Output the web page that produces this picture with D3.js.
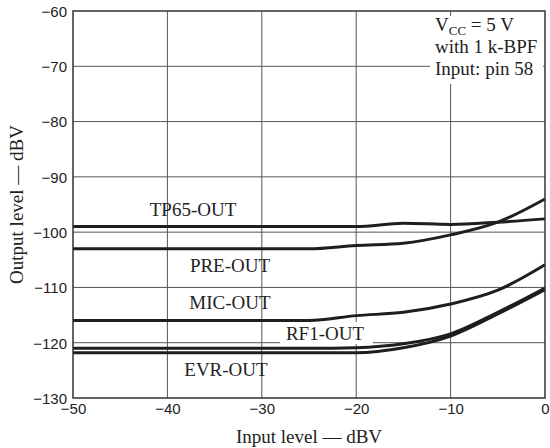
<!DOCTYPE html>
<html><head><meta charset="utf-8">
<script src="https://cdn.jsdelivr.net/npm/d3@7"></script>
<style>html,body{margin:0;padding:0;background:#fff;}</style>
</head><body>
<svg id="c" width="550" height="448"></svg>
<script>
const xValues = [-50, -40, -30, -25, -20, -15, -10, -5, 0];
const tp65Out = [-99, -99, -99, -99, -99, -98.4, -98.6, -98.2, -97.6];
const preOut  = [-103, -103, -103, -103, -102.4, -102, -100.5, -98.2, -94];
const micOut  = [-116, -116, -116, -116, -115.1, -114.5, -113, -110.5, -105.9];
const rf1Out  = [-121, -121, -121, -121, -120.9, -120.2, -118.4, -114.5, -110.1];
const evrOut  = [-121.8, -121.8, -121.8, -121.8, -121.8, -120.9, -118.8, -114.8, -110.4];
const xTicks = [-50, -40, -30, -20, -10, 0];
const yTicks = [-130, -120, -110, -100, -90, -80, -70, -60];
const seriesNames = ["TP65-OUT", "PRE-OUT", "MIC-OUT", "RF1-OUT", "EVR-OUT"];
const notes = ["with 1 k-BPF", "Input: pin 58"];

const svg = d3.select("#c");
const L = 73, R = 545, T = 11, B = 398;
const x = d3.scaleLinear().domain([-50, 0]).range([L, R]);
const y = d3.scaleLinear().domain([-130, -60]).range([B, T]);
const fmt = v => (v < 0 ? "\u2212" + Math.abs(v) : String(v));

// grid
const grid = svg.append("g").attr("stroke", "#555").attr("stroke-width", 1);
xTicks.slice(1, -1).forEach(v => grid.append("line")
  .attr("x1", x(v)).attr("x2", x(v)).attr("y1", T).attr("y2", B));
yTicks.slice(1, -1).forEach(v => grid.append("line")
  .attr("x1", L).attr("x2", R).attr("y1", y(v)).attr("y2", y(v)));

// axes (labels only)
const xAxis = d3.axisBottom(x).tickValues(xTicks).tickSize(0).tickPadding(5).tickFormat(fmt);
const gx = svg.append("g").attr("transform", `translate(0,${B})`).call(xAxis);
const yAxis = d3.axisLeft(y).tickValues(yTicks).tickSize(0).tickPadding(6).tickFormat(fmt);
const gy = svg.append("g").attr("transform", `translate(${L},0)`).call(yAxis);
[gx, gy].forEach(g => {
  g.select(".domain").remove();
  g.selectAll("text").attr("font-family", "Liberation Sans, Arial, sans-serif")
    .attr("font-size", 15).attr("fill", "#222");
});
gy.selectAll("text").attr("dy", "0.36em");

// white boxes behind annotations
svg.append("rect").attr("x", 430).attr("y", 16).attr("width", 113).attr("height", 68).attr("fill", "#fff");
svg.append("rect").attr("x", 280).attr("y", 322).attr("width", 93).attr("height", 22).attr("fill", "#fff");

// curves
const line = d3.line().x(d => x(d[0])).y(d => y(d[1])).curve(d3.curveMonotoneX);
const allSeries = [tp65Out, preOut, micOut, rf1Out, evrOut];
allSeries.forEach(s => {
  svg.append("path").datum(xValues.map((v, i) => [v, s[i]]))
    .attr("d", line).attr("fill", "none").attr("stroke", "#1e1e1e")
    .attr("stroke-width", 3).attr("stroke-linejoin", "round");
});

// frame
svg.append("rect").attr("x", L).attr("y", T).attr("width", R - L).attr("height", B - T)
  .attr("fill", "none").attr("stroke", "#333").attr("stroke-width", 1.5);

// series labels
const serif = "Liberation Serif, Times New Roman, serif";
const labelPos = [[193, 216], [230, 272], [230, 309], [325, 340], [226, 376]];
seriesNames.forEach((n, i) => {
  svg.append("text").attr("x", labelPos[i][0]).attr("y", labelPos[i][1])
    .attr("text-anchor", "middle").attr("font-family", serif).attr("font-size", 19)
    .attr("fill", "#222").text(n);
});

// annotations
const vcc = svg.append("text").attr("x", 435).attr("y", 31)
  .attr("font-family", serif).attr("font-size", 19).attr("fill", "#222");
vcc.append("tspan").text("V");
vcc.append("tspan").attr("font-size", 13).attr("dy", 4).text("CC");
vcc.append("tspan").attr("dy", -4).text(" = 5 V");
notes.forEach((t, i) => svg.append("text").attr("x", 435).attr("y", 53 + i * 22)
  .attr("font-family", serif).attr("font-size", 19).attr("fill", "#222").text(t));

// axis titles
svg.append("text").attr("x", (L + R) / 2).attr("y", 443).attr("text-anchor", "middle")
  .attr("font-family", serif).attr("font-size", 19).attr("fill", "#222").text("Input level \u2014 dBV");
svg.append("text").attr("transform", `translate(23,${(T + B) / 2}) rotate(-90)`)
  .attr("text-anchor", "middle").attr("font-family", serif).attr("font-size", 19)
  .attr("fill", "#222").text("Output level \u2014 dBV");
</script>
</body></html>
